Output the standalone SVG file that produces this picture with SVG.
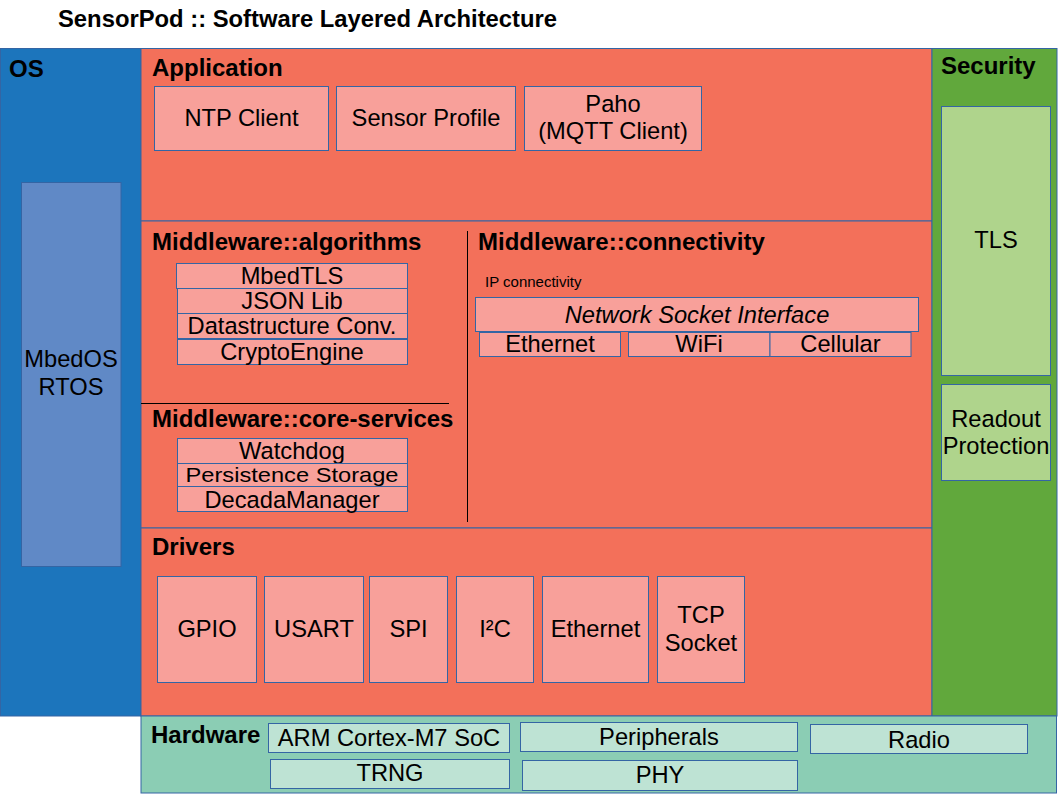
<svg xmlns="http://www.w3.org/2000/svg" width="1058" height="794" viewBox="0 0 1058 794">
<style>
text{font-family:"Liberation Sans",Arial,sans-serif;fill:#000}
.h{font-weight:bold;font-size:24px}
.t{font-size:23.7px;text-anchor:middle}
.reg{stroke:#3465a4;stroke-width:1}
.os{fill:#1c75bc}
.sal{fill:#f3705a}
.sec{fill:#61a83c}
.hw{fill:#8bcdb4}
.bx{fill:#f8a09a;stroke:#3465a4;stroke-width:1}
.gb{fill:#afd48c;stroke:#3465a4;stroke-width:1}
.tb{fill:#bee3d4;stroke:#3465a4;stroke-width:1}
.ob{fill:#6089c6;stroke:#3465a4;stroke-width:1}
</style>
<rect width="1058" height="794" fill="#fff"/>
<text id="title" class="h" x="58" y="27" style="font-size:23.8px">SensorPod :: Software Layered Architecture</text>

<g id="os">
<rect class="os reg" x="0.5" y="48.5" width="140.5" height="667.5"/>
<text class="h" x="9" y="77">OS</text>
</g>
<g id="mbedos">
<rect class="ob" x="21.5" y="182.5" width="99.5" height="384"/>
<text class="t" x="71" y="367">MbedOS</text>
<text class="t" x="71" y="395">RTOS</text>
</g>

<g id="application">
<rect class="sal reg" x="141" y="48.5" width="791" height="172.5"/>
<text class="h" x="152" y="76">Application</text>
</g>
<g id="ntp"><rect class="bx" x="154.5" y="86.5" width="174" height="64"/><text class="t" x="241.5" y="126">NTP Client</text></g>
<g id="sensorprofile"><rect class="bx" x="336.5" y="86.5" width="179" height="64"/><text class="t" x="426" y="126">Sensor Profile</text></g>
<g id="paho"><rect class="bx" x="524.5" y="86.5" width="177" height="64"/><text class="t" x="613" y="112">Paho</text><text class="t" x="613" y="139">(MQTT Client)</text></g>

<g id="middleware">
<rect class="sal reg" x="141" y="221" width="791" height="307"/>
<line x1="141" y1="403.5" x2="449" y2="403.5" stroke="#000" stroke-width="1"/>
<line x1="467.5" y1="231" x2="467.5" y2="522" stroke="#000" stroke-width="1"/>
<text class="h" x="152" y="250">Middleware::algorithms</text>
<text class="h" x="478" y="250">Middleware::connectivity</text>
<text class="h" x="152" y="427">Middleware::core-services</text>
<text x="485" y="287" style="font-size:15px">IP connectivity</text>
</g>
<g id="mbedtls"><rect class="bx" x="176.5" y="263.5" width="231" height="25"/><text class="t" x="292" y="284">MbedTLS</text></g>
<g id="jsonlib"><rect class="bx" x="177.5" y="288.5" width="230" height="25"/><text class="t" x="292" y="309">JSON Lib</text></g>
<g id="datastructure"><rect class="bx" x="177.5" y="313.5" width="230" height="25"/><text class="t" x="292" y="334">Datastructure Conv.</text></g>
<g id="cryptoengine"><rect class="bx" x="177.5" y="339.5" width="230" height="25"/><text class="t" x="292" y="360">CryptoEngine</text></g>
<g id="watchdog"><rect class="bx" x="177.5" y="438.5" width="230" height="25"/><text class="t" x="292" y="459">Watchdog</text></g>
<g id="persistence"><rect class="bx" x="177.5" y="463.5" width="230" height="23"/><text class="t" x="292" y="481.5" style="font-size:21px" textLength="213" lengthAdjust="spacingAndGlyphs">Persistence Storage</text></g>
<g id="decada"><rect class="bx" x="177.5" y="486.5" width="230" height="25"/><text class="t" x="292" y="507.5">DecadaManager</text></g>
<g id="netsocket"><rect class="bx" x="475.5" y="297.5" width="443" height="34"/><text class="t" x="697" y="323" font-style="italic">Network Socket Interface</text></g>
<g id="eth-conn"><rect class="bx" x="479.5" y="332.5" width="141" height="24"/><text class="t" x="550" y="352">Ethernet</text></g>
<g id="wifi"><rect class="bx" x="628.5" y="332.5" width="141.5" height="24"/><text class="t" x="699" y="352">WiFi</text></g>
<g id="cellular"><rect class="bx" x="770" y="332.5" width="141" height="24"/><text class="t" x="840.5" y="352">Cellular</text></g>

<g id="drivers">
<rect class="sal reg" x="141" y="528" width="791" height="188"/>
<text class="h" x="152" y="555">Drivers</text>
</g>
<g id="gpio"><rect class="bx" x="157.5" y="576.5" width="99" height="106"/><text class="t" x="207" y="637">GPIO</text></g>
<g id="usart"><rect class="bx" x="264.5" y="576.5" width="99" height="106"/><text class="t" x="314" y="637">USART</text></g>
<g id="spi"><rect class="bx" x="369.5" y="576.5" width="78" height="106"/><text class="t" x="408.5" y="637">SPI</text></g>
<g id="i2c"><rect class="bx" x="456.5" y="576.5" width="77" height="106"/><text class="t" x="495" y="637">I²C</text></g>
<g id="eth-drv"><rect class="bx" x="542.5" y="576.5" width="106" height="106"/><text class="t" x="595.5" y="637">Ethernet</text></g>
<g id="tcp"><rect class="bx" x="657.5" y="576.5" width="87" height="106"/><text class="t" x="701" y="623">TCP</text><text class="t" x="701" y="651">Socket</text></g>

<g id="security">
<rect class="sec reg" x="932" y="48.5" width="125" height="667.5"/>
<text class="h" x="941" y="74">Security</text>
</g>
<g id="tls"><rect class="gb" x="941.5" y="106.5" width="109" height="269"/><text class="t" x="996" y="248">TLS</text></g>
<g id="readout"><rect class="gb" x="941.5" y="384.5" width="109" height="96"/><text class="t" x="996" y="427">Readout</text><text class="t" x="996" y="454">Protection</text></g>

<g id="hardware">
<rect class="hw reg" x="141" y="716" width="915.5" height="77"/>
<text class="h" x="151" y="743">Hardware</text>
</g>
<g id="arm"><rect class="tb" x="268.5" y="723.5" width="241" height="29"/><text class="t" x="389" y="746">ARM Cortex-M7 SoC</text></g>
<g id="peripherals"><rect class="tb" x="520.5" y="722.5" width="277" height="29"/><text class="t" x="659" y="745">Peripherals</text></g>
<g id="radio"><rect class="tb" x="810.5" y="724.5" width="217" height="29"/><text class="t" x="919" y="748">Radio</text></g>
<g id="trng"><rect class="tb" x="270.5" y="759.5" width="239" height="29"/><text class="t" x="390" y="781">TRNG</text></g>
<g id="phy"><rect class="tb" x="522.5" y="760.5" width="275" height="30"/><text class="t" x="660" y="783">PHY</text></g>
<g id="connectors"/>
</svg>
